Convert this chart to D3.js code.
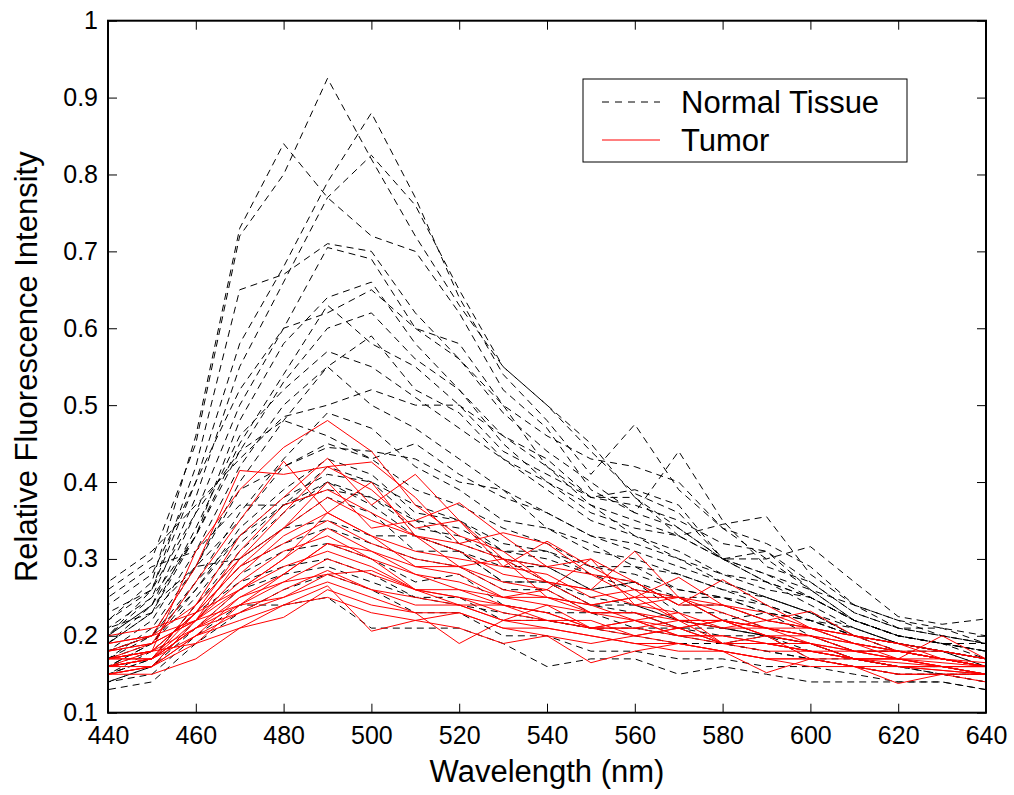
<!DOCTYPE html>
<html>
<head>
<meta charset="utf-8">
<script src="https://cdn.jsdelivr.net/npm/d3@7"></script>
<style>
  body { margin: 0; background: #fff; }
  svg { display: block; }
  text { font-family: "Liberation Sans", Arial, sans-serif; fill: #000; }
</style>
</head>
<body>
<svg id="chart" width="1014" height="795"></svg>
<script>
// Emission wavelengths (nm)
const wavelengths = [440, 450, 460, 470, 480, 490, 500, 510, 520, 530, 540,
                     550, 560, 570, 580, 590, 600, 610, 620, 630, 640];

// Normal tissue spectra (relative fluorescence intensity)
const normalSpectra = [
  [0.26, 0.30, 0.45, 0.72, 0.80, 0.925, 0.82, 0.72, 0.63, 0.55, 0.50, 0.44, 0.385, 0.36, 0.30, 0.27, 0.25, 0.22, 0.20, 0.19, 0.18],
  [0.24, 0.28, 0.40, 0.58, 0.68, 0.79, 0.88, 0.77, 0.64, 0.54, 0.48, 0.41, 0.475, 0.39, 0.34, 0.30, 0.26, 0.22, 0.20, 0.19, 0.18],
  [0.22, 0.27, 0.46, 0.73, 0.84, 0.77, 0.72, 0.70, 0.62, 0.52, 0.47, 0.39, 0.36, 0.44, 0.35, 0.29, 0.27, 0.23, 0.21, 0.20, 0.19],
  [0.21, 0.25, 0.38, 0.55, 0.66, 0.77, 0.825, 0.76, 0.65, 0.55, 0.50, 0.45, 0.38, 0.33, 0.345, 0.355, 0.28, 0.24, 0.22, 0.20, 0.19],
  [0.20, 0.26, 0.42, 0.65, 0.67, 0.71, 0.70, 0.62, 0.56, 0.49, 0.44, 0.40, 0.36, 0.34, 0.30, 0.30, 0.316, 0.27, 0.225, 0.215, 0.222],
  [0.19, 0.24, 0.36, 0.50, 0.60, 0.705, 0.69, 0.60, 0.58, 0.50, 0.42, 0.37, 0.33, 0.31, 0.28, 0.27, 0.25, 0.22, 0.20, 0.19, 0.18],
  [0.20, 0.25, 0.33, 0.48, 0.58, 0.64, 0.66, 0.58, 0.52, 0.45, 0.40, 0.36, 0.34, 0.33, 0.30, 0.28, 0.26, 0.22, 0.20, 0.19, 0.19],
  [0.19, 0.23, 0.33, 0.45, 0.54, 0.63, 0.58, 0.55, 0.50, 0.44, 0.41, 0.38, 0.38, 0.34, 0.30, 0.27, 0.24, 0.21, 0.19, 0.18, 0.17],
  [0.18, 0.22, 0.31, 0.42, 0.50, 0.55, 0.59, 0.52, 0.49, 0.43, 0.39, 0.35, 0.33, 0.30, 0.27, 0.25, 0.23, 0.20, 0.19, 0.18, 0.17],
  [0.27, 0.31, 0.37, 0.43, 0.485, 0.50, 0.52, 0.50, 0.50, 0.46, 0.43, 0.38, 0.39, 0.37, 0.30, 0.31, 0.26, 0.24, 0.21, 0.21, 0.19],
  [0.17, 0.21, 0.29, 0.40, 0.48, 0.55, 0.50, 0.47, 0.43, 0.39, 0.36, 0.33, 0.31, 0.29, 0.27, 0.25, 0.23, 0.20, 0.19, 0.18, 0.17],
  [0.23, 0.26, 0.36, 0.44, 0.48, 0.46, 0.43, 0.45, 0.41, 0.38, 0.36, 0.33, 0.32, 0.30, 0.28, 0.26, 0.25, 0.22, 0.20, 0.19, 0.17],
  [0.20, 0.24, 0.29, 0.39, 0.42, 0.445, 0.44, 0.43, 0.40, 0.39, 0.34, 0.32, 0.29, 0.28, 0.26, 0.24, 0.22, 0.21, 0.19, 0.18, 0.17],
  [0.16, 0.19, 0.26, 0.34, 0.39, 0.43, 0.41, 0.36, 0.35, 0.31, 0.30, 0.28, 0.26, 0.25, 0.22, 0.23, 0.20, 0.18, 0.18, 0.17, 0.16],
  [0.18, 0.20, 0.27, 0.33, 0.37, 0.40, 0.38, 0.34, 0.33, 0.30, 0.29, 0.26, 0.27, 0.23, 0.23, 0.21, 0.20, 0.18, 0.18, 0.17, 0.16],
  [0.15, 0.17, 0.24, 0.30, 0.34, 0.38, 0.36, 0.31, 0.31, 0.27, 0.27, 0.24, 0.24, 0.22, 0.21, 0.20, 0.19, 0.17, 0.16, 0.16, 0.15],
  [0.21, 0.23, 0.29, 0.30, 0.34, 0.35, 0.33, 0.33, 0.31, 0.29, 0.29, 0.26, 0.27, 0.24, 0.24, 0.22, 0.21, 0.19, 0.18, 0.17, 0.16],
  [0.14, 0.16, 0.22, 0.28, 0.31, 0.32, 0.30, 0.27, 0.28, 0.24, 0.23, 0.23, 0.21, 0.21, 0.19, 0.20, 0.17, 0.17, 0.16, 0.15, 0.15],
  [0.16, 0.18, 0.23, 0.27, 0.29, 0.30, 0.28, 0.25, 0.25, 0.22, 0.22, 0.21, 0.20, 0.19, 0.19, 0.18, 0.17, 0.16, 0.15, 0.15, 0.14],
  [0.13, 0.14, 0.19, 0.23, 0.26, 0.28, 0.26, 0.23, 0.23, 0.20, 0.20, 0.18, 0.18, 0.17, 0.17, 0.16, 0.16, 0.15, 0.14, 0.14, 0.13],
  [0.14, 0.15, 0.20, 0.24, 0.24, 0.25, 0.21, 0.21, 0.21, 0.19, 0.16, 0.17, 0.17, 0.15, 0.16, 0.15, 0.14, 0.14, 0.14, 0.14, 0.13],
  [0.17, 0.19, 0.25, 0.32, 0.37, 0.42, 0.40, 0.35, 0.32, 0.30, 0.27, 0.25, 0.24, 0.22, 0.21, 0.20, 0.19, 0.17, 0.16, 0.16, 0.15],
  [0.22, 0.26, 0.40, 0.52, 0.60, 0.62, 0.65, 0.60, 0.56, 0.50, 0.46, 0.43, 0.42, 0.40, 0.34, 0.32, 0.29, 0.24, 0.22, 0.21, 0.20],
  [0.19, 0.23, 0.34, 0.46, 0.52, 0.57, 0.55, 0.51, 0.47, 0.43, 0.40, 0.37, 0.35, 0.33, 0.30, 0.28, 0.25, 0.22, 0.20, 0.19, 0.18],
  [0.18, 0.20, 0.29, 0.35, 0.42, 0.45, 0.43, 0.39, 0.37, 0.34, 0.32, 0.29, 0.29, 0.26, 0.25, 0.24, 0.22, 0.20, 0.18, 0.17, 0.16],
  [0.15, 0.18, 0.23, 0.29, 0.32, 0.34, 0.32, 0.30, 0.29, 0.26, 0.26, 0.23, 0.23, 0.21, 0.21, 0.20, 0.19, 0.17, 0.16, 0.16, 0.15],
  [0.25, 0.29, 0.31, 0.37, 0.37, 0.39, 0.38, 0.35, 0.34, 0.31, 0.31, 0.28, 0.27, 0.25, 0.25, 0.23, 0.22, 0.20, 0.19, 0.18, 0.17],
  [0.16, 0.19, 0.27, 0.36, 0.43, 0.49, 0.47, 0.42, 0.39, 0.35, 0.34, 0.31, 0.30, 0.28, 0.26, 0.25, 0.23, 0.21, 0.19, 0.18, 0.16],
  [0.14, 0.16, 0.21, 0.26, 0.28, 0.29, 0.27, 0.25, 0.24, 0.23, 0.22, 0.21, 0.21, 0.20, 0.19, 0.18, 0.17, 0.16, 0.15, 0.15, 0.14],
  [0.15, 0.17, 0.24, 0.31, 0.36, 0.40, 0.37, 0.33, 0.31, 0.27, 0.27, 0.24, 0.23, 0.21, 0.20, 0.20, 0.18, 0.17, 0.16, 0.15, 0.15],
  [0.20, 0.24, 0.33, 0.44, 0.53, 0.60, 0.62, 0.56, 0.52, 0.46, 0.42, 0.38, 0.37, 0.35, 0.32, 0.31, 0.27, 0.23, 0.21, 0.20, 0.19],
  [0.17, 0.20, 0.26, 0.33, 0.38, 0.41, 0.40, 0.37, 0.35, 0.32, 0.31, 0.29, 0.28, 0.26, 0.25, 0.23, 0.22, 0.20, 0.18, 0.18, 0.16]
];

// Tumor spectra (relative fluorescence intensity)
const tumorSpectra = [
  [0.17, 0.18, 0.31, 0.39, 0.445, 0.48, 0.44, 0.37, 0.33, 0.31, 0.27, 0.26, 0.24, 0.23, 0.21, 0.21, 0.19, 0.18, 0.17, 0.16, 0.15],
  [0.18, 0.20, 0.29, 0.415, 0.41, 0.42, 0.39, 0.34, 0.35, 0.29, 0.28, 0.25, 0.26, 0.22, 0.22, 0.20, 0.19, 0.17, 0.17, 0.16, 0.16],
  [0.17, 0.19, 0.27, 0.35, 0.427, 0.36, 0.40, 0.33, 0.29, 0.30, 0.25, 0.24, 0.22, 0.23, 0.19, 0.20, 0.17, 0.17, 0.16, 0.155, 0.15],
  [0.16, 0.17, 0.24, 0.33, 0.38, 0.431, 0.37, 0.41, 0.35, 0.30, 0.29, 0.30, 0.24, 0.25, 0.22, 0.21, 0.20, 0.18, 0.17, 0.17, 0.16],
  [0.15, 0.16, 0.22, 0.30, 0.36, 0.42, 0.426, 0.38, 0.32, 0.30, 0.27, 0.26, 0.31, 0.25, 0.22, 0.21, 0.20, 0.19, 0.18, 0.17, 0.16],
  [0.17, 0.18, 0.23, 0.29, 0.34, 0.40, 0.34, 0.35, 0.373, 0.33, 0.29, 0.28, 0.25, 0.25, 0.23, 0.21, 0.21, 0.19, 0.18, 0.17, 0.16],
  [0.19, 0.20, 0.24, 0.30, 0.34, 0.38, 0.35, 0.33, 0.32, 0.334, 0.32, 0.28, 0.27, 0.24, 0.24, 0.22, 0.21, 0.19, 0.18, 0.17, 0.165],
  [0.16, 0.17, 0.22, 0.28, 0.33, 0.36, 0.33, 0.31, 0.30, 0.29, 0.323, 0.29, 0.26, 0.25, 0.24, 0.23, 0.21, 0.20, 0.18, 0.18, 0.17],
  [0.17, 0.17, 0.23, 0.29, 0.32, 0.35, 0.32, 0.30, 0.29, 0.27, 0.26, 0.30, 0.27, 0.24, 0.273, 0.24, 0.21, 0.20, 0.19, 0.18, 0.17],
  [0.16, 0.17, 0.21, 0.26, 0.30, 0.34, 0.31, 0.29, 0.29, 0.26, 0.25, 0.24, 0.25, 0.276, 0.24, 0.22, 0.21, 0.20, 0.19, 0.17, 0.16],
  [0.18, 0.19, 0.22, 0.27, 0.31, 0.33, 0.30, 0.28, 0.27, 0.25, 0.26, 0.23, 0.23, 0.22, 0.21, 0.22, 0.232, 0.20, 0.19, 0.18, 0.17],
  [0.15, 0.16, 0.20, 0.25, 0.28, 0.32, 0.31, 0.28, 0.26, 0.25, 0.24, 0.23, 0.22, 0.21, 0.22, 0.20, 0.20, 0.19, 0.17, 0.20, 0.17],
  [0.16, 0.17, 0.21, 0.24, 0.27, 0.30, 0.28, 0.26, 0.25, 0.24, 0.23, 0.21, 0.22, 0.20, 0.20, 0.19, 0.18, 0.17, 0.17, 0.16, 0.16],
  [0.17, 0.18, 0.21, 0.23, 0.26, 0.285, 0.26, 0.25, 0.24, 0.22, 0.24, 0.21, 0.20, 0.21, 0.19, 0.19, 0.18, 0.17, 0.16, 0.16, 0.15],
  [0.19, 0.20, 0.22, 0.24, 0.25, 0.28, 0.285, 0.26, 0.24, 0.24, 0.22, 0.22, 0.20, 0.21, 0.19, 0.18, 0.18, 0.17, 0.165, 0.16, 0.16],
  [0.16, 0.16, 0.20, 0.23, 0.25, 0.27, 0.25, 0.23, 0.23, 0.21, 0.21, 0.20, 0.19, 0.19, 0.18, 0.17, 0.17, 0.16, 0.16, 0.155, 0.15],
  [0.15, 0.15, 0.17, 0.21, 0.24, 0.265, 0.206, 0.22, 0.23, 0.21, 0.20, 0.19, 0.20, 0.19, 0.18, 0.17, 0.17, 0.16, 0.15, 0.15, 0.15],
  [0.17, 0.18, 0.19, 0.21, 0.224, 0.26, 0.24, 0.23, 0.19, 0.22, 0.21, 0.20, 0.19, 0.18, 0.18, 0.17, 0.16, 0.16, 0.15, 0.15, 0.14],
  [0.16, 0.17, 0.20, 0.22, 0.24, 0.25, 0.23, 0.22, 0.21, 0.19, 0.20, 0.165, 0.18, 0.19, 0.18, 0.152, 0.17, 0.16, 0.138, 0.15, 0.15],
  [0.18, 0.19, 0.22, 0.26, 0.29, 0.31, 0.29, 0.26, 0.26, 0.24, 0.23, 0.21, 0.22, 0.20, 0.20, 0.19, 0.19, 0.17, 0.17, 0.165, 0.16],
  [0.15, 0.16, 0.19, 0.24, 0.28, 0.32, 0.30, 0.26, 0.25, 0.23, 0.22, 0.21, 0.21, 0.22, 0.19, 0.19, 0.18, 0.17, 0.16, 0.16, 0.15],
  [0.20, 0.21, 0.23, 0.26, 0.30, 0.36, 0.33, 0.29, 0.28, 0.25, 0.25, 0.23, 0.23, 0.21, 0.22, 0.20, 0.19, 0.18, 0.18, 0.17, 0.16],
  [0.16, 0.18, 0.23, 0.31, 0.37, 0.39, 0.36, 0.33, 0.31, 0.28, 0.27, 0.24, 0.25, 0.22, 0.22, 0.21, 0.20, 0.18, 0.18, 0.17, 0.16],
  [0.17, 0.17, 0.21, 0.25, 0.27, 0.28, 0.26, 0.24, 0.24, 0.22, 0.22, 0.21, 0.21, 0.20, 0.19, 0.19, 0.18, 0.18, 0.17, 0.16, 0.16]
];

const xTicks = [440, 460, 480, 500, 520, 540, 560, 580, 600, 620, 640];
const yTicks = [0.1, 0.2, 0.3, 0.4, 0.5, 0.6, 0.7, 0.8, 0.9, 1];
const legendLabels = ["Normal Tissue", "Tumor"];

const margin = { left: 108, right: 28, top: 20.7, bottom: 82.3 };
const W = 1014, H = 795;
const iw = W - margin.left - margin.right;
const ih = H - margin.top - margin.bottom;

const svg = d3.select("#chart");
const g = svg.append("g").attr("transform", `translate(${margin.left},${margin.top})`);

const x = d3.scaleLinear().domain([440, 640]).range([0, iw]);
const y = d3.scaleLinear().domain([0.1, 1]).range([ih, 0]);

svg.append("defs").append("clipPath").attr("id", "plotClip")
  .append("rect").attr("width", iw).attr("height", ih);

const line = d3.line()
  .x((d, i) => x(wavelengths[i]))
  .y(d => y(d));

const plot = g.append("g").attr("clip-path", "url(#plotClip)");

plot.selectAll("path.normal")
  .data(normalSpectra)
  .join("path")
  .attr("class", "normal")
  .attr("d", line)
  .attr("fill", "none")
  .attr("stroke", "#000")
  .attr("stroke-width", 1)
  .attr("stroke-dasharray", "7,5")
  .attr("stroke-dashoffset", (d, i) => (i * 5) % 12);

plot.selectAll("path.tumor")
  .data(tumorSpectra)
  .join("path")
  .attr("class", "tumor")
  .attr("d", line)
  .attr("fill", "none")
  .attr("stroke", "#ff0000")
  .attr("stroke-width", 1);

// Axes: inward ticks on all four sides, labels on bottom and left
const fmtY = v => (v === 1 ? "1" : d3.format(".1f")(v));

const xAxis = g.append("g").attr("transform", `translate(0,${ih})`)
  .call(d3.axisBottom(x).tickValues(xTicks).tickSizeInner(-9).tickSizeOuter(0).tickPadding(14).tickFormat(d3.format("d")));
const xAxisTop = g.append("g")
  .call(d3.axisTop(x).tickValues(xTicks).tickSizeInner(-9).tickSizeOuter(0).tickFormat(""));
const yAxis = g.append("g")
  .call(d3.axisLeft(y).tickValues(yTicks).tickSizeInner(-9).tickSizeOuter(0).tickPadding(10).tickFormat(fmtY));
const yAxisRight = g.append("g").attr("transform", `translate(${iw},0)`)
  .call(d3.axisRight(y).tickValues(yTicks).tickSizeInner(-9).tickSizeOuter(0).tickFormat(""));

[xAxis, xAxisTop, yAxis, yAxisRight].forEach(a => {
  a.select(".domain").remove();
  a.selectAll(".tick line").attr("stroke", "#000").attr("stroke-width", 1);
  a.selectAll(".tick text")
    .style("font-family", '"Liberation Sans", Arial, sans-serif')
    .style("font-size", "25px")
    .attr("fill", "#000");
});

g.append("rect")
  .attr("width", iw).attr("height", ih)
  .attr("fill", "none").attr("stroke", "#000").attr("stroke-width", 2);

// Axis titles
svg.append("text")
  .attr("x", margin.left + iw / 2)
  .attr("y", 782)
  .attr("text-anchor", "middle")
  .style("font-size", "31px")
  .text("Wavelength (nm)");

svg.append("text")
  .attr("transform", `translate(37,${margin.top + ih / 2}) rotate(-90)`)
  .attr("text-anchor", "middle")
  .style("font-size", "31px")
  .text("Relative Fluorescence Intensity");

// Legend
const legend = svg.append("g").attr("transform", "translate(583,79)");
legend.append("rect")
  .attr("width", 324).attr("height", 83)
  .attr("fill", "#fff").attr("stroke", "#000").attr("stroke-width", 1);

const legendStyles = [
  { stroke: "#000", dash: "7,6" },
  { stroke: "#ff0000", dash: null }
];
const legendRows = legend.selectAll("g.row")
  .data(legendLabels)
  .join("g")
  .attr("class", "row")
  .attr("transform", (d, i) => `translate(0,${23 + i * 38})`);

legendRows.append("line")
  .attr("x1", 19).attr("x2", 77).attr("y1", 0).attr("y2", 0)
  .attr("stroke", (d, i) => legendStyles[i].stroke)
  .attr("stroke-width", 1)
  .attr("stroke-dasharray", (d, i) => legendStyles[i].dash);

legendRows.append("text")
  .attr("x", 98)
  .attr("y", 11)
  .style("font-size", "31px")
  .text(d => d);
</script>
</body>
</html>
